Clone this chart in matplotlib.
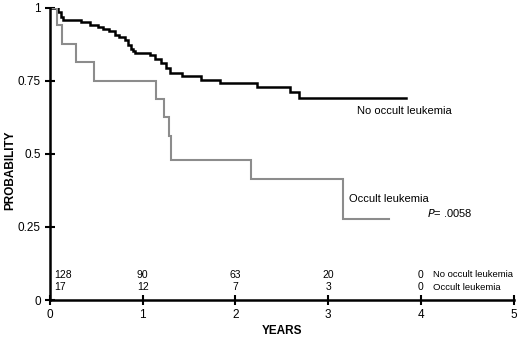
import matplotlib
matplotlib.use("Agg")
import matplotlib.pyplot as plt

plt.rcParams['font.family'] = ['Liberation Sans', 'DejaVu Sans']

# Kaplan-Meier curves (step 'post')
no_occult_t = [0, 0.09, 0.115, 0.14, 0.34, 0.43, 0.52, 0.57, 0.64, 0.70, 0.75, 0.81, 0.84, 0.87,
               0.90, 0.92, 1.08, 1.13, 1.20, 1.25, 1.29, 1.42, 1.63, 1.83, 2.23, 2.59, 2.68, 3.84]
no_occult_s = [1.0, 0.984, 0.966, 0.957, 0.949, 0.941, 0.934, 0.926, 0.918, 0.906, 0.900, 0.889, 0.872, 0.858,
               0.850, 0.843, 0.837, 0.823, 0.809, 0.792, 0.777, 0.766, 0.752, 0.743, 0.729, 0.712, 0.689, 0.689]

occult_t = [0, 0.08, 0.13, 0.28, 0.47, 1.14, 1.23, 1.28, 1.31, 2.17, 3.16, 3.66]
occult_s = [1.0, 0.941, 0.875, 0.8125, 0.75, 0.6875, 0.625, 0.5625, 0.48, 0.413, 0.276, 0.276]

# Numbers at risk
risk_years = [0, 1, 2, 3, 4]
risk_no_occult = ["128", "90", "63", "20", "0"]
risk_occult = ["17", "12", "7", "3", "0"]

x_ticks = [0, 1, 2, 3, 4, 5]
y_ticks = [0, 0.25, 0.5, 0.75, 1]
y_ticklabels = ["0", "0.25", "0.5", "0.75", "1"]

fig = plt.figure(figsize=(5.2, 3.41), dpi=100)
ax = fig.add_axes([0.096, 0.120, 0.892, 0.858])

ax.step(no_occult_t, no_occult_s, where='post', color='black', lw=1.8, solid_joinstyle='miter')
ax.step(occult_t, occult_s, where='post', color='#8c8c8c', lw=1.5, solid_joinstyle='miter')

ax.set_xlim(0, 5)
ax.set_ylim(0, 1)
ax.set_xticks(x_ticks)
ax.set_xticklabels([str(v) for v in x_ticks])
ax.set_yticks(y_ticks)
ax.set_yticklabels(y_ticklabels)
ax.tick_params(direction='inout', length=7, width=1.5, labelsize=8.5, pad=3)

for side in ['top', 'right']:
    ax.spines[side].set_visible(False)
for side in ['left', 'bottom']:
    ax.spines[side].set_linewidth(1.8)

# Axis labels placed in figure coordinates
fig.text(282 / 520, 1 - 331 / 341, "YEARS", fontsize=8.5, fontweight='bold', ha='center', va='center')
fig.text(10 / 520, 1 - 170 / 341, "PROBABILITY", fontsize=8.5, fontweight='bold', ha='center', va='center',
         rotation=90)

# Curve labels
ax.text(3.31, 0.646, "No occult leukemia", fontsize=8, va='center', ha='left')
ax.text(3.22, 0.344, "Occult leukemia", fontsize=8, va='center', ha='left')
ax.text(4.06, 0.296, "$P$= .0058", fontsize=8, va='center', ha='left')

# Risk table
for i, yr in enumerate(risk_years):
    if i == 0:
        ax.text(0.05, 0.087, risk_no_occult[i], fontsize=7.5, ha='left', va='center')
        ax.text(0.05, 0.043, risk_occult[i], fontsize=7.5, ha='left', va='center')
    else:
        ax.text(yr, 0.087, risk_no_occult[i], fontsize=7.5, ha='center', va='center')
        ax.text(yr, 0.043, risk_occult[i], fontsize=7.5, ha='center', va='center')
ax.text(4.13, 0.087, "No occult leukemia", fontsize=6.8, ha='left', va='center')
ax.text(4.13, 0.043, "Occult leukemia", fontsize=6.8, ha='left', va='center')

fig.savefig("out.png", dpi=100)
